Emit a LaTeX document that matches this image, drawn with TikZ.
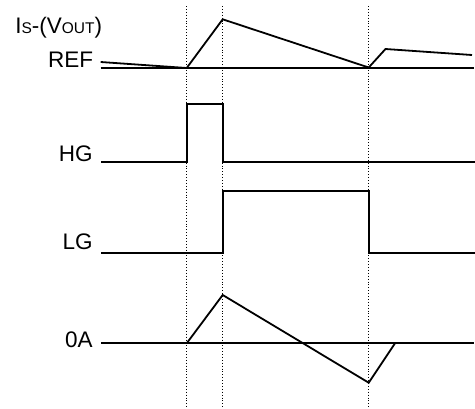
\documentclass[tikz,border=0pt]{standalone}
\usepackage{fontspec}
\setmainfont{Liberation Sans}
\begin{document}
\begin{tikzpicture}[x=1pt, y=-1pt, line width=1.8pt]
	\useasboundingbox (0,0) rectangle (475,408);
	\def\sc#1{{\fontsize{15.5}{15.5}\selectfont #1}}

	% \drawlabel#name#x#y#text
	\def\drawlabel#1#2#3#4{
		\node[anchor=base east, inner sep=0pt, font=\fontsize{22.5}{26}\selectfont] (#1) at (#2, #3) {#4};
	}

	% timing marks
	\foreach \t in {186.7, 222.7, 368.7}
		\draw[dotted, line width=0.9pt] (\t, 6) -- (\t, 408);

	% labels
	\drawlabel{is}{103}{33.5}{I\sc{S}-(V\sc{OUT})}
	\drawlabel{ref}{94}{67.5}{REF}
	\drawlabel{hg}{93.5}{161.5}{HG}
	\drawlabel{lg}{93.5}{249}{LG}
	\drawlabel{zero}{93.5}{347}{0A}

	% current sense
	\draw (100.7, 68) -- (474, 68);
	\draw (100.7, 62) -- (186.7, 68) -- (222.7, 19.3) -- (368.7, 67.5) -- (385.5, 49) -- (472, 55);

	% high gate
	\draw (101, 161.7) -- (186.7, 161.7) -- (186.7, 104.3) -- (222.7, 104.3) -- (222.7, 161.7) -- (475, 161.7);

	% low gate
	\draw (101, 252.7) -- (222.7, 252.7) -- (222.7, 190.7) -- (368.7, 190.7) -- (368.7, 252.7) -- (475, 252.7);

	% inductor current
	\draw (101, 343.3) -- (474, 343.3);
	\draw (186.7, 343.3) -- (222.7, 295) -- (368.7, 382.7) -- (395, 343.3);
\end{tikzpicture}
\end{document}
